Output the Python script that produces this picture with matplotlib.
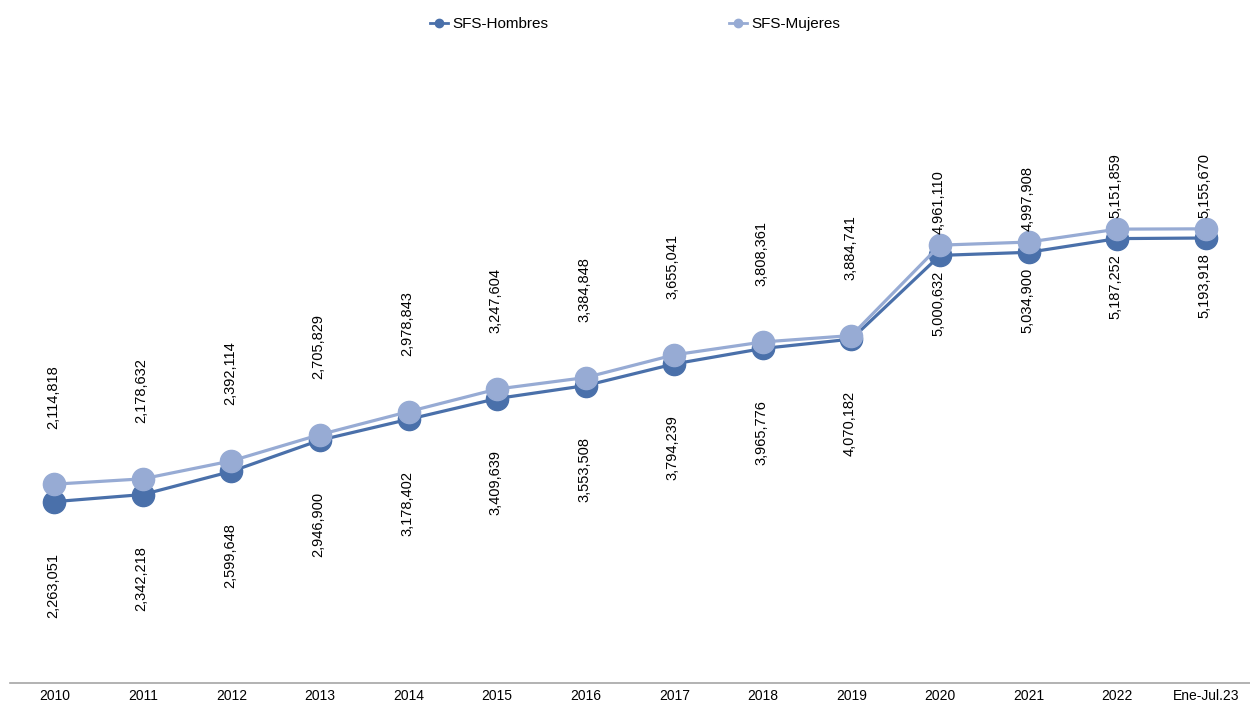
import matplotlib
matplotlib.use("Agg")
import matplotlib.pyplot as plt
from matplotlib.lines import Line2D

plt.rcParams['font.family'] = ['Liberation Sans', 'DejaVu Sans']

years = ["2010", "2011", "2012", "2013", "2014", "2015", "2016",
         "2017", "2018", "2019", "2020", "2021", "2022", "Ene-Jul.23"]
hombres = [2263051, 2342218, 2599648, 2946900, 3178402, 3409639, 3553508,
           3794239, 3965776, 4070182, 5000632, 5034900, 5187252, 5193918]
mujeres = [2114818, 2178632, 2392114, 2705829, 2978843, 3247604, 3384848,
           3655041, 3808361, 3884741, 4961110, 4997908, 5151859, 5155670]

c_h = "#4a70aa"
c_m = "#97abd4"

# label gaps (points) from marker centre
gap_h = [37] * 10 + [11] * 4
gap_m = [40] * 10 + [8] * 4

fig = plt.figure(figsize=(12.5, 7.04), dpi=100)
ax = fig.add_axes([0.008, 0.0298, 0.992, 0.913])
ax2 = ax.twinx()

x = list(range(len(years)))
ax.plot(x, hombres, color=c_h, lw=2.3, marker='o', ms=16, zorder=2)
ax2.plot(x, mujeres, color=c_m, lw=2.3, marker='o', ms=16, zorder=3)

ax.set_ylim(247000, 7392000)
ax2.set_ylim(-253000, 7401000)
ax.set_xlim(-0.5, len(years) - 0.5)

for i, v in enumerate(hombres):
    ax.annotate(f"{v:,}", (i, v), xytext=(-1, -gap_h[i]),
                textcoords='offset points', rotation=90,
                ha='center', va='top', fontsize=10.5)
for i, v in enumerate(mujeres):
    ax2.annotate(f"{v:,}", (i, v), xytext=(-1, gap_m[i]),
                 textcoords='offset points', rotation=90,
                 ha='center', va='bottom', fontsize=10.5)

ax.set_xticks(x)
ax.set_xticklabels(years, fontsize=10)
ax.tick_params(axis='x', length=0, pad=4.5)
for a in (ax, ax2):
    a.set_yticks([])
    for s in ("top", "left", "right"):
        a.spines[s].set_visible(False)
ax2.spines["bottom"].set_visible(False)
ax.spines["bottom"].set_color("#a6a6a6")
ax.spines["bottom"].set_linewidth(1.2)
ax2.patch.set_visible(False)

handles = [Line2D([], [], color=c_h, lw=2, marker='o', ms=6),
           Line2D([], [], color=c_m, lw=2, marker='o', ms=6)]
fig.legend(handles, ["SFS-Hombres", "SFS-Mujeres"], loc='upper center',
           bbox_to_anchor=(0.508, 0.995), ncol=2, frameon=False,
           fontsize=11, columnspacing=11.8, handlelength=1.2,
           handletextpad=0.3)

fig.savefig("out.png", dpi=100)
